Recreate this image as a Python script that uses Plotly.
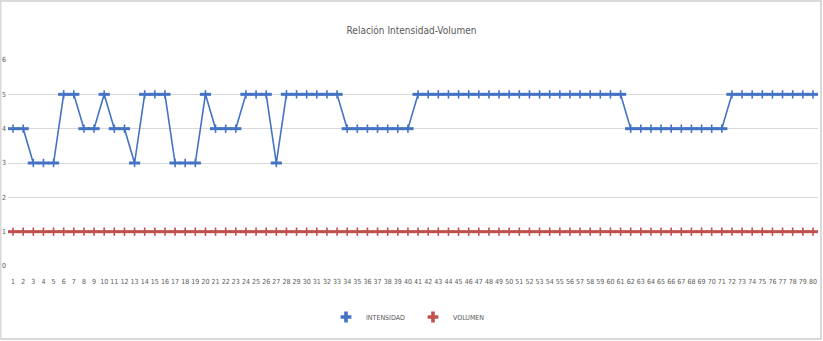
import plotly.graph_objects as go

# Session number (1..80)
sessions = list(range(1, 81))

# Intensity per session
intensidad = [4, 4, 3, 3, 3, 5, 5, 4, 4, 5,
              4, 4, 3, 5, 5, 5, 3, 3, 3, 5,
              4, 4, 4, 5, 5, 5, 3, 5, 5, 5,
              5, 5, 5, 4, 4, 4, 4, 4, 4, 4,
              5, 5, 5, 5, 5, 5, 5, 5, 5, 5,
              5, 5, 5, 5, 5, 5, 5, 5, 5, 5,
              5, 4, 4, 4, 4, 4, 4, 4, 4, 4,
              4, 5, 5, 5, 5, 5, 5, 5, 5, 5]

# Volume per session
volumen = [1] * 80

y_ticks = [0, 1, 2, 3, 4, 5, 6]

BLUE = "#4472c4"
RED = "#c0504d"
GREY = "#595959"
NARROW = "Liberation Sans Narrow, DejaVu Sans Condensed, Roboto, sans-serif"

W, H = 823, 341
ML, MR, MT, MB = 8, 5, 60, 75
PW = W - ML - MR
PH = H - MT - MB

fig = go.Figure()
for name, vals, col in [("INTENSIDAD", intensidad, BLUE), ("VOLUMEN", volumen, RED)]:
    # connecting line with horizontal marker arms
    fig.add_trace(go.Scatter(
        x=sessions, y=vals, name=name, mode="lines+markers", showlegend=False,
        line=dict(color=col, width=1.6),
        marker=dict(symbol="line-ew", size=8, line=dict(color=col, width=3)),
    ))
    # vertical marker arms
    fig.add_trace(go.Scatter(
        x=sessions, y=vals, name=name, mode="markers", showlegend=False,
        marker=dict(symbol="line-ns", size=6, line=dict(color=col, width=1.6)),
        hoverinfo="skip",
    ))
    # legend entry
    fig.add_trace(go.Scatter(
        x=[None], y=[None], name=name, mode="markers",
        marker=dict(symbol="cross", size=9, color=col, line=dict(width=0)),
    ))

# light frame around the whole chart
def px_x(p):
    return (p - ML) / PW

def px_y(p):
    return (H - MB - p) / PH

fig.add_shape(type="rect", xref="paper", yref="paper",
              x0=px_x(0.5), x1=px_x(821), y0=px_y(1), y1=px_y(339),
              line=dict(color="#d9d9d9", width=2), layer="below")

fig.update_layout(
    width=W, height=H,
    margin=dict(l=ML, r=MR, t=MT, b=MB, autoexpand=False),
    paper_bgcolor="white", plot_bgcolor="white",
    title=dict(text="Relación Intensidad-Volumen", x=0.5, xanchor="center",
               y=1 - 30 / H, yanchor="middle",
               font=dict(family=NARROW, size=10, color=GREY)),
    xaxis=dict(type="linear", range=[0.5, 80.5], tickmode="array",
               tickvals=sessions, ticktext=[str(s) for s in sessions],
               tickangle=0, showgrid=False, zeroline=False, showline=False,
               ticks="", ticklabelstandoff=10,
               tickfont=dict(family=NARROW, size=7, color=GREY)),
    yaxis=dict(range=[0, 6], tickvals=y_ticks, showgrid=True,
               gridcolor="#d9d9d9", gridwidth=1, zeroline=False,
               ticks="", ticklabelstandoff=1,
               tickfont=dict(family=NARROW, size=7, color=GREY)),
    legend=dict(orientation="h", x=0.5, xanchor="center", y=px_y(317),
                yanchor="middle", font=dict(family=NARROW, size=7, color=GREY),
                itemwidth=30, tracegroupgap=0,
                entrywidth=42, entrywidthmode="pixels"),
    showlegend=True,
)

fig.write_html("out.html")
